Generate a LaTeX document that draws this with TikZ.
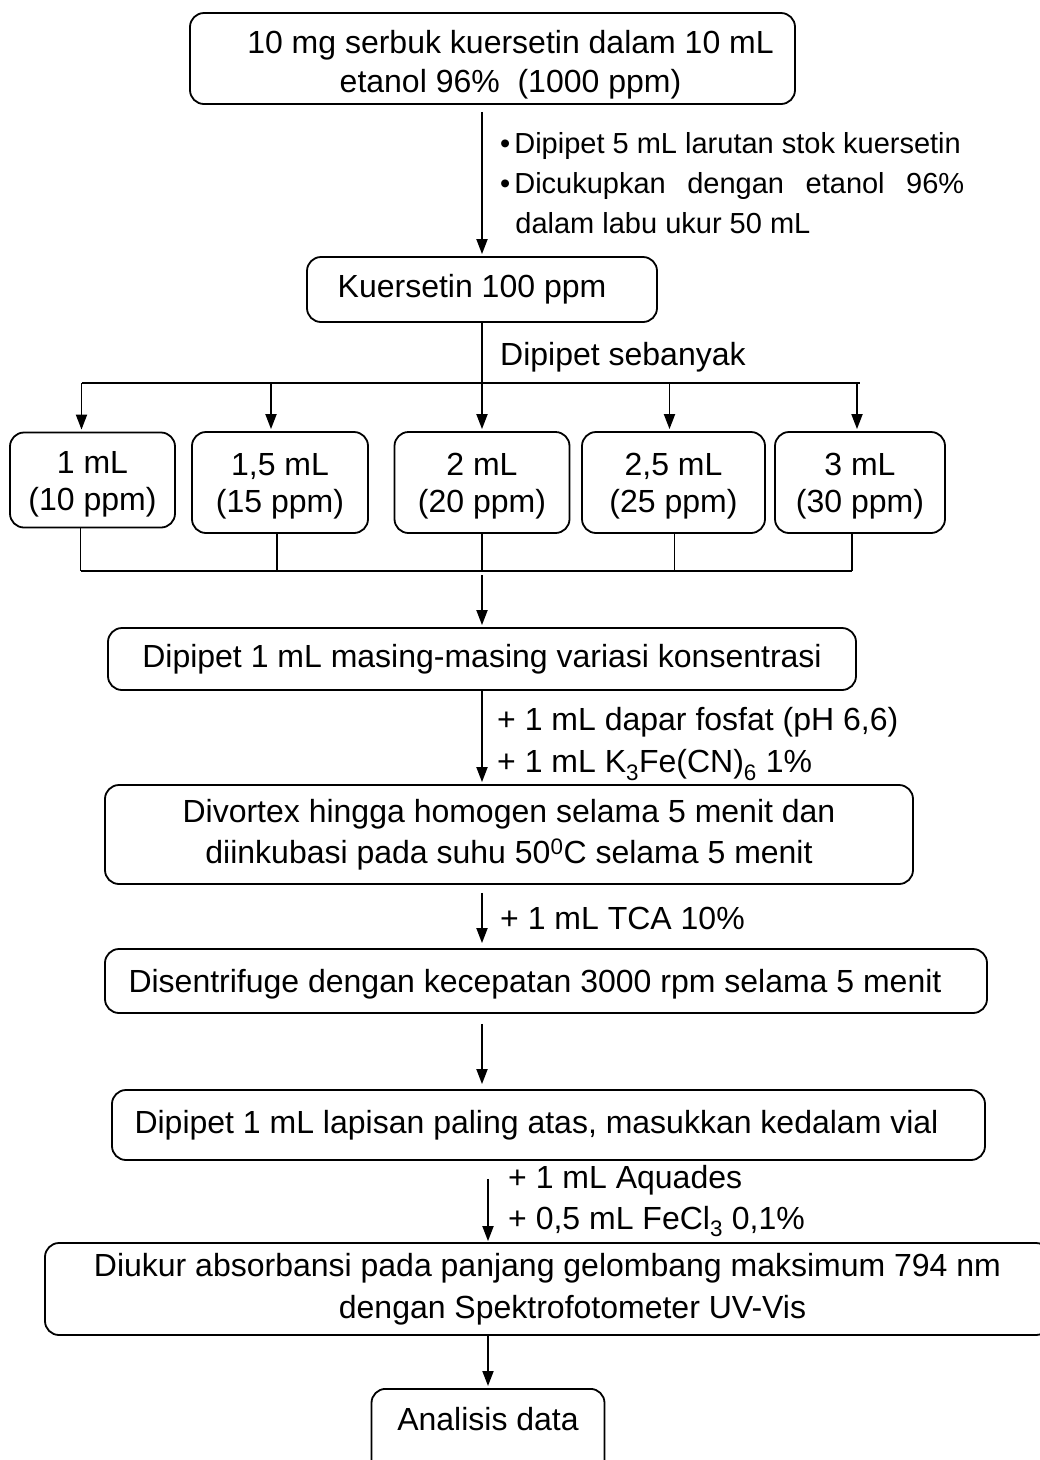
\documentclass[tikz,border=0pt]{standalone}
\usepackage{fontspec}
\setmainfont{Liberation Sans}
\usetikzlibrary{arrows.meta,positioning}

\begin{document}
\begin{tikzpicture}[
    x=1pt, y=-1pt,
    font=\fontsize{32}{39}\selectfont,
    stepbox/.style={
        draw,
        line width=1.8pt,
        rounded corners=14pt,
        align=center,
        inner sep=0pt
    },
    dose/.style={
        stepbox,
        minimum height=101,
        text height=67pt,
        text depth=7pt
    },
    flow/.style={
        -{Triangle[length=15pt,width=11pt]},
        line width=1.8pt
    },
    link/.style={
        line width=1.8pt
    },
    note/.style={
        anchor=west,
        align=left,
        inner sep=0pt
    }
]
\useasboundingbox (0,0) rectangle (1040,1460);

% Boxes
\node[stepbox, minimum width=605, minimum height=91, text height=74pt, text depth=7pt]
    (stock) at (492.5,58.5)
    {\hspace*{36pt}10 mg serbuk kuersetin dalam 10 mL\\\hspace*{36pt}etanol 96\%\ \ (1000 ppm)};
\node[stepbox, minimum width=350, minimum height=65] (mid) at (482,289.5)
    {\hspace*{-20pt}Kuersetin 100 ppm};

\node[dose, minimum width=165, minimum height=95] (b1) at (92.5,480) {1 mL\\[-2pt](10 ppm)};
\node[dose, minimum width=176] (b2) at (280,482.5) {1,5 mL\\[-2pt](15 ppm)};
\node[dose, minimum width=175] (b3) at (482,482.5) {2 mL\\[-2pt](20 ppm)};
\node[dose, minimum width=183] (b4) at (673.5,482.5) {2,5 mL\\[-2pt](25 ppm)};
\node[dose, minimum width=170] (b5) at (860,482.5) {3 mL\\[-2pt](30 ppm)};

\node[stepbox, minimum width=748, minimum height=62] (dilute) at (482,659)
    {Dipipet 1 mL masing-masing variasi konsentrasi};
\node[stepbox, minimum width=808, minimum height=99] (vortex) at (509,834.5)
    {Divortex hingga homogen selama 5 menit dan\\[2pt]diinkubasi pada suhu 50\textsuperscript{0}C selama 5 menit};
\node[stepbox, minimum width=882, minimum height=64, text depth=0pt] (spin) at (546,981)
    {\hspace*{-22pt}Disentrifuge dengan kecepatan 3000 rpm selama 5 menit};
\node[stepbox, minimum width=873, minimum height=70] (vial) at (548.5,1125)
    {\hspace*{-24pt}Dipipet 1 mL lapisan paling atas, masukkan kedalam vial};
\node[stepbox, minimum width=1005, minimum height=92] (measure) at (547.5,1289)
    {Diukur absorbansi pada panjang gelombang maksimum 794 nm\\[3pt]\hspace*{50pt}dengan Spektrofotometer UV-Vis};
\node[stepbox, anchor=north, minimum width=233, inner ysep=10pt,
    text height=32pt, text depth=60pt] (result) at (488,1388) {Analisis data};

% Labels
\node[note, font=\fontsize{29}{40}\selectfont] (dilution) at (500,183)
    {\textbullet\hspace{4pt}Dipipet 5 mL larutan stok kuersetin\\
     \textbullet\hspace{4pt}\makebox[450pt][s]{Dicukupkan dengan etanol 96\%}\\
     \hspace*{15.2pt}dalam labu ukur 50 mL};
\node[note] (take) at (500,357) {Dipipet sebanyak};
\node[note] (buffer) at (497,744)
    {+ 1 mL dapar fosfat (pH 6,6)\\[3pt]+ 1 mL K\textsubscript{3}Fe(CN)\textsubscript{6} 1\%};
\node[note] (tca) at (500,918) {+ 1 mL TCA 10\%};
\node[note] (iron) at (508,1201)
    {+ 1 mL Aquades\\[2pt]+ 0,5 mL FeCl\textsubscript{3} 0,1\%};

% Split and join
\coordinate (split) at (482,383);
\coordinate (join) at (482,571);

\draw[flow, shorten <=7pt, shorten >=2pt] (stock.south -| mid.north) -- (mid.north);
\draw[flow, shorten >=2pt] (mid.south) -- (b3.north);
\draw[link] ([xshift=-11pt]b1.north |- split) -- (b5.north |- split);
\foreach \b/\dx in {b1/-11,b2/-9,b4/-4,b5/-3}
    \draw[flow, shorten >=2pt] ([xshift=\dx pt]\b.north |- split) -- ([xshift=\dx pt]\b.north);

\foreach \b/\dx in {b1/-12,b2/-3,b3/0,b4/1,b5/-8}
    \draw[link] ([xshift=\dx pt]\b.south) -- ([xshift=\dx pt]\b.south |- join);
\draw[link] ([xshift=-12pt]b1.south |- join) -- ([xshift=-8pt]b5.south |- join);
\draw[flow, shorten <=4pt, shorten >=2pt] (join) -- (dilute.north);

% Steps
\draw[flow, shorten >=2pt] (dilute.south) -- (dilute.south |- vortex.north);
\draw[flow, shorten <=8pt, shorten >=5pt] (vortex.south -| dilute.south) -- (spin.north -| dilute.south);
\draw[flow, shorten <=10pt, shorten >=5pt] (spin.south -| dilute.south) -- (vial.north -| dilute.south);
\draw[flow, shorten <=18pt, shorten >=1pt] (vial.south -| result.north) -- (measure.north -| result.north);
\draw[flow, shorten >=2pt] (measure.south -| result.north) -- (result.north);

\end{tikzpicture}
\end{document}
